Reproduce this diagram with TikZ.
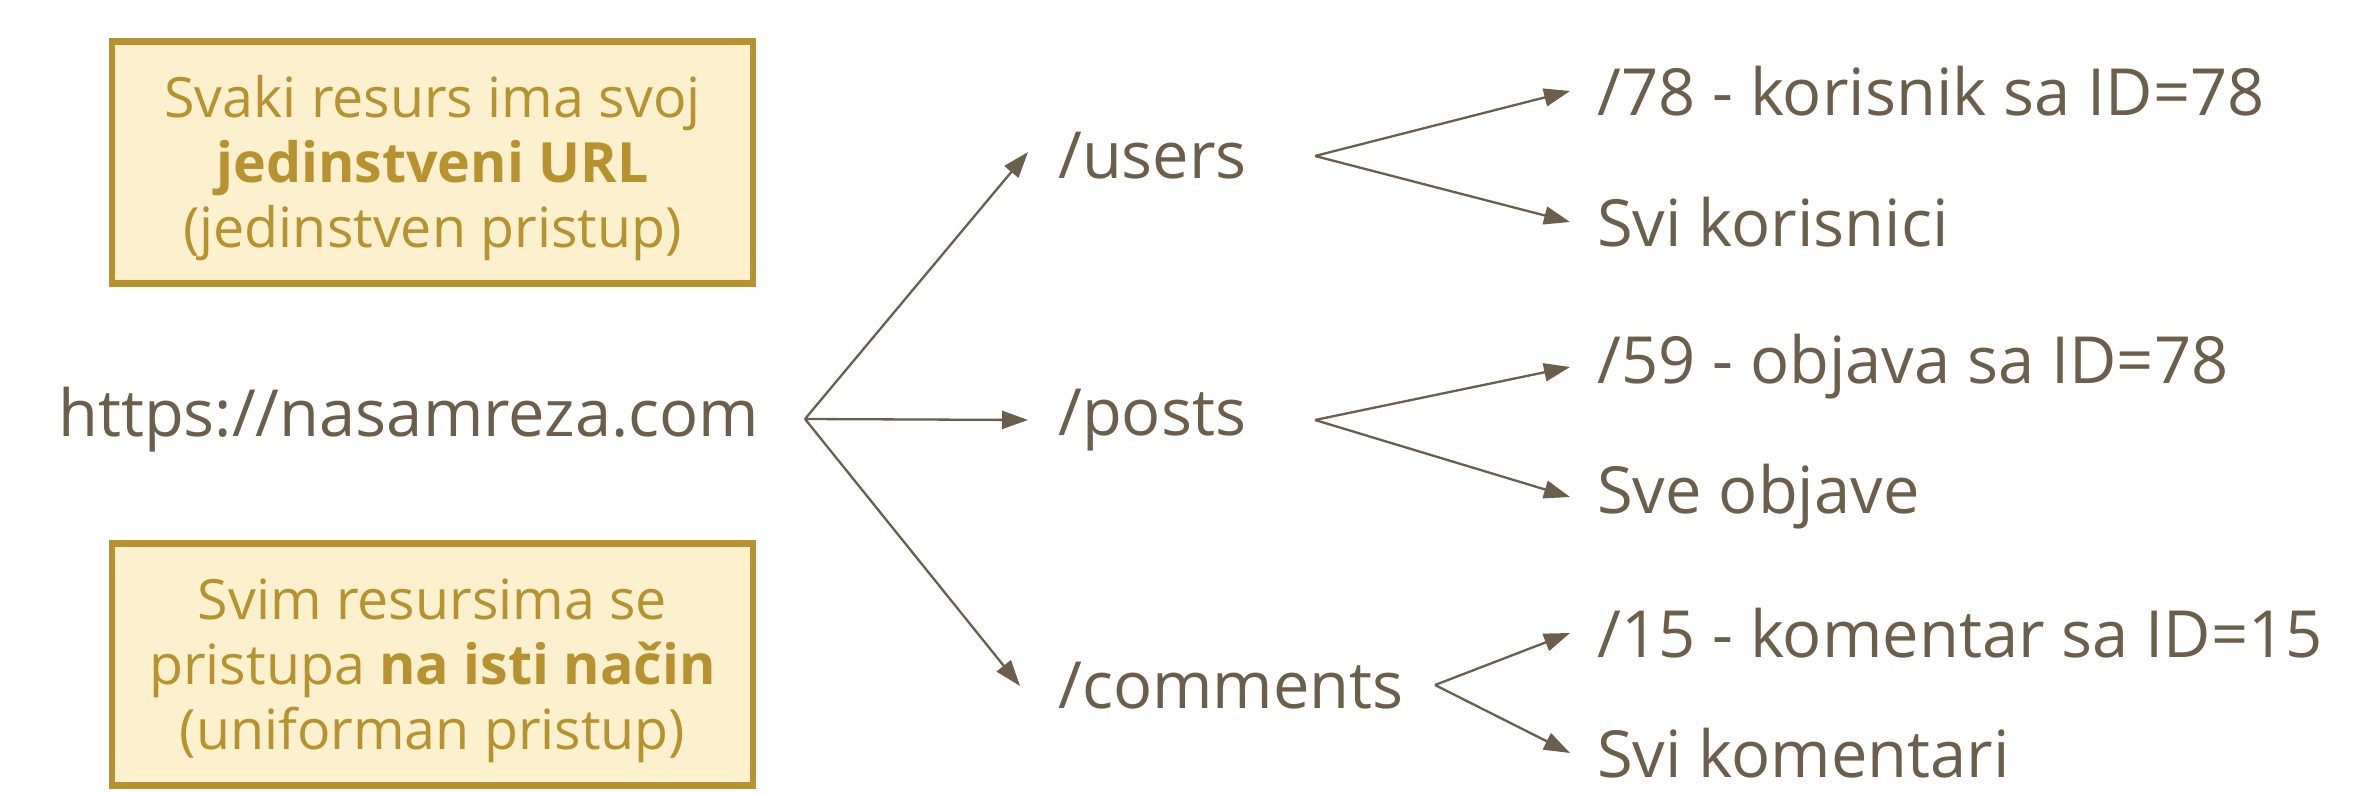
\documentclass[tikz,border=0pt]{standalone}
\usepackage{fontspec}
\setmainfont{Open Sans}
\usetikzlibrary{arrows.meta}
\definecolor{txt}{HTML}{6B5E4A}
\definecolor{gold}{HTML}{B8922F}
\definecolor{boxfill}{HTML}{FCF0CF}
\begin{document}
\begin{tikzpicture}[x=1pt,y=-1pt,
  lbl/.style={anchor=west,inner sep=0pt,text=txt,font=\fontsize{65}{76}\selectfont},
  infobox/.style={draw=gold,fill=boxfill,line width=6.5pt,minimum width=641pt,minimum height=242pt},
  infotext/.style={text=gold,align=center,inner sep=0pt,font=\fontsize{55.5}{65}\selectfont},
  arr/.style={draw=txt,line width=2.3pt,-{Triangle[length=26pt,width=18pt]}}]
\useasboundingbox (0,0) rectangle (2380,794);
\node[infobox] (b1) at (432.5,162.5) {};
\node[infotext] (t1) at ([yshift=-6pt]b1.center) {Svaki resurs ima svoj\\\textbf{jedinstveni URL}\\(jedinstven pristup)};
\node[infobox] (b2) at (432.5,664.5) {};
\node[infotext] (t2) at ([yshift=-6pt]b2.center) {Svim resursima se\\pristupa \textbf{na isti način}\\(uniforman pristup)};
\node[lbl] (url) at (58,420) {https://nasamreza.com};
\node[lbl] (users) at (1058,156) {/users};
\node[lbl] (posts) at (1058,420) {/posts};
\node[lbl] (comments) at (1058,686) {/comments};
\node[lbl] (u78) at (1597,91) {/78 - korisnik sa ID=78};
\node[lbl] (uall) at (1597,222) {Svi korisnici};
\node[lbl] (p59) at (1597,367) {/59 - objava sa ID=78};
\node[lbl] (pall) at (1597,497) {Sve objave};
\node[lbl] (c15) at (1597,633) {/15 - komentar sa ID=15};
\node[lbl] (call) at (1597,753) {Svi komentari};
\coordinate (f0) at (805,419);
\coordinate (f1) at (1315,156);
\coordinate (f2) at (1315,420);
\coordinate (f3) at (1435,685);
\draw[arr] (f0) -- ([xshift=-30pt,yshift=4pt]users.west);
\draw[arr] (f0) -- ([xshift=-30pt]posts.west);
\draw[arr] (f0) -- ([xshift=-38pt]comments.west);
\draw[arr] (f1) -- ([xshift=-27pt]u78.west);
\draw[arr] (f1) -- ([xshift=-27pt]uall.west);
\draw[arr] (f2) -- ([xshift=-27pt]p59.west);
\draw[arr] (f2) -- ([xshift=-27pt]pall.west);
\draw[arr] (f3) -- ([xshift=-27pt]c15.west);
\draw[arr] (f3) -- ([xshift=-27pt]call.west);
\end{tikzpicture}
\end{document}
